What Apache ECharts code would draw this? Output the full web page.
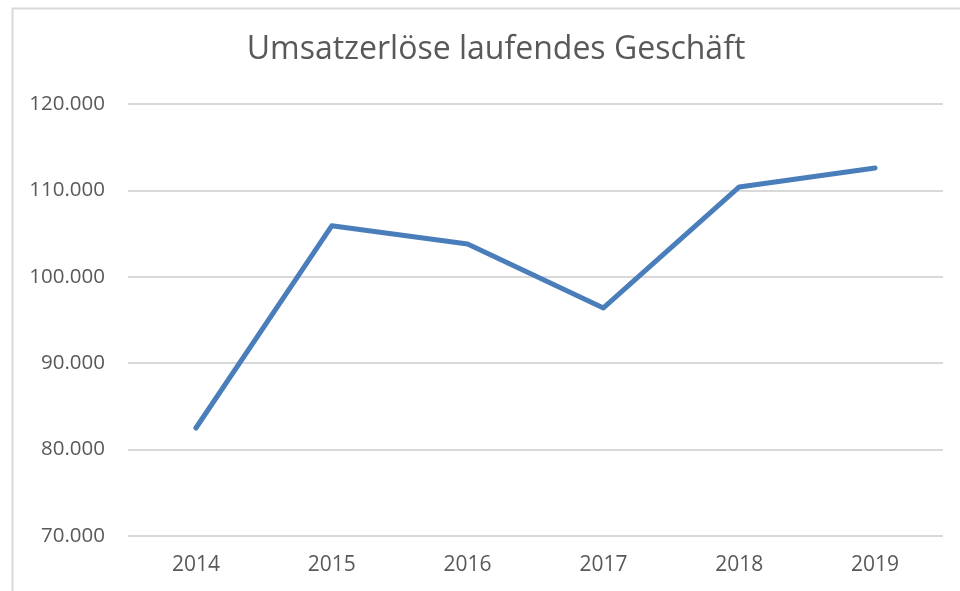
<!DOCTYPE html>
<html><head><meta charset="utf-8">
<script src="https://cdn.jsdelivr.net/npm/echarts@6/dist/echarts.min.js"></script>
<style>html,body{margin:0;padding:0;background:#fff}#c{width:960px;height:591px}</style>
</head><body><div id="c"></div>
<script>
const title = 'Umsatzerlöse laufendes Geschäft';
const categories = ['2014', '2015', '2016', '2017', '2018', '2019'];
const umsatz = [82500, 105900, 103800, 96400, 110400, 112600];
const yMin = 70000, yMax = 120000, yStep = 10000;

const chart = echarts.init(document.getElementById('c'), null, {renderer: 'canvas'});
const fmt = v => (v / 1000).toFixed(3);
chart.setOption({
  animation: false,
  backgroundColor: '#fff',
  title: {
    text: title, left: 491, top: 29, textAlign: 'center',
    textStyle: {fontFamily: 'Open Sans', fontSize: 32, fontWeight: 'normal', color: '#595959'}
  },
  graphic: [{
    type: 'rect', left: 10, top: 6, shape: {x: 0, y: 0, width: 960, height: 600},
    style: {fill: 'none', stroke: '#d9d9d9', lineWidth: 2}, z: -1
  }],
  grid: {left: 128, right: 17, top: 104, bottom: 55, containLabel: false},
  xAxis: {
    type: 'category', data: categories, boundaryGap: true,
    axisLine: {show: false}, axisTick: {show: false},
    axisLabel: {color: '#595959', fontFamily: 'Open Sans', fontSize: 21, margin: 19}
  },
  yAxis: {
    type: 'value', min: yMin, max: yMax, interval: yStep,
    axisLine: {show: false}, axisTick: {show: false},
    splitLine: {lineStyle: {color: '#d9d9d9', width: 2}},
    axisLabel: {color: '#595959', fontFamily: 'Open Sans', fontSize: 20.5, margin: 23, formatter: fmt}
  },
  series: [{
    type: 'line', data: umsatz, symbol: 'none',
    lineStyle: {color: '#4a7ebb', width: 5, cap: 'round', join: 'round'}
  }]
});
</script></body></html>
